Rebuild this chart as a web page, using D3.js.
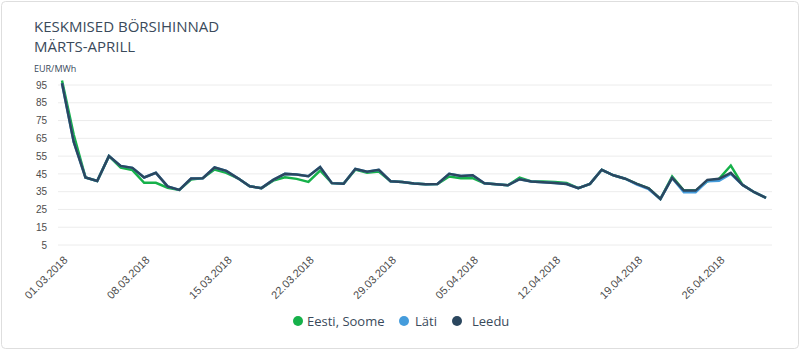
<!DOCTYPE html>
<html>
<head>
<meta charset="utf-8">
<script src="https://cdn.jsdelivr.net/npm/d3@7"></script>
<style>
  body { margin: 0; background: #fff; }
  svg { display: block; font-family: "Open Sans", sans-serif; }
  .title { font-size: 15px; fill: #3a4a5b; }
  .unit { font-size: 9px; fill: #3a4a5b; }
  .legend text { font-size: 13px; fill: #3a4a5b; }
</style>
</head>
<body>
<div id="chart"></div>
<script>
// data
const startDate = new Date(2018, 2, 1);
const endDate = new Date(2018, 3, 30);
const tickLabels = ['01.03.2018', '08.03.2018', '15.03.2018', '22.03.2018', '29.03.2018',
  '05.04.2018', '12.04.2018', '19.04.2018', '26.04.2018'];
const yTicks = [5, 15, 25, 35, 45, 55, 65, 75, 85, 95];
const seriesNames = ['Eesti, Soome', 'Läti', 'Leedu'];
const seriesColors = ['#16b14a', '#459cdc', '#2b475f'];

const eesti = [97.5, 67, 43, 41, 55, 48.6, 47.1, 40, 40, 37.2,
  36, 41.8, 42.6, 47.5, 45.6, 42.5, 38, 37, 41.2, 43.1,
  42.2, 40.5, 46.9, 39.8, 39.5, 47.4, 45.6, 46.3, 40.9, 40.5,
  39.6, 39.2, 39.3, 43.5, 42.6, 42.6, 39.7, 39.2, 38.6, 42.9,
  40.7, 40.7, 40.5, 39.9, 37, 39.4, 47.3, 44.2, 42.3, 39.4,
  36.9, 30.9, 43.5, 35.6, 35.6, 40.9, 42.2, 49.7, 38.8, 34.7, 31.5];
const lati = [96, 63, 43, 41, 55, 49.5, 48.4, 43, 45.6, 38,
  36, 42.4, 42.6, 48.6, 46.7, 42.5, 38, 37, 41.6, 45,
  44.6, 43.7, 48.8, 39.8, 39.5, 47.8, 46.2, 47.3, 40.9, 40.5,
  39.6, 39.2, 39.3, 45, 43.8, 44.2, 39.7, 39.2, 38.6, 42,
  40.7, 40.3, 39.9, 39.3, 37, 39.4, 47.3, 44.2, 42.3, 39,
  36.4, 30.9, 42.7, 34.7, 34.7, 40.9, 41.2, 45, 38.8, 34.7, 31.5];
const leedu = [96, 63, 43, 41, 55, 49.5, 48.4, 43, 45.6, 38,
  36, 42.4, 42.6, 48.6, 46.7, 42.5, 38, 37, 41.6, 45,
  44.6, 43.7, 48.8, 39.8, 39.5, 47.8, 46.2, 47.3, 40.9, 40.5,
  39.6, 39.2, 39.3, 45, 43.8, 44.2, 39.7, 39.2, 38.6, 42,
  40.7, 40.3, 39.9, 39.3, 37, 39.4, 47.3, 44.2, 42.3, 39.4,
  36.9, 30.9, 42.7, 35.6, 35.6, 41.6, 42.2, 45.6, 38.8, 34.7, 31.5];

const width = 800, height = 350;

const svg = d3.select('#chart').append('svg')
    .attr('width', width)
    .attr('height', height);

// card frame
svg.append('rect')
    .attr('x', 1.5).attr('y', 1.5)
    .attr('width', width - 3).attr('height', height - 3)
    .attr('rx', 4)
    .attr('fill', '#fff')
    .attr('stroke', '#dedede');

svg.append('text').attr('class', 'title').attr('x', 34).attr('y', 32).text('KESKMISED BÖRSIHINNAD');
svg.append('text').attr('class', 'title').attr('x', 34).attr('y', 52).text('MÄRTS-APRILL');
svg.append('text').attr('class', 'unit').attr('x', 34).attr('y', 72).text('EUR/MWh');

const x = d3.scaleTime().domain([startDate, endDate]).range([62, 766]);
const y = d3.scaleLinear().domain([5, 95]).range([245, 85]);
const gridLeft = 58, gridRight = 772;

// horizontal grid
svg.append('g').selectAll('line')
    .data(yTicks)
  .join('line')
    .attr('x1', gridLeft).attr('x2', gridRight)
    .attr('y1', d => y(d)).attr('y2', d => y(d))
    .attr('stroke', '#ececec');

// y axis labels
const yAxis = svg.append('g')
    .attr('transform', 'translate(47,0)')
    .call(d3.axisLeft(y).tickValues(yTicks).tickSize(0).tickPadding(0));
yAxis.select('.domain').remove();
yAxis.selectAll('text')
    .attr('fill', '#4d4d4d')
    .style('font-size', '10px');

// x axis labels, one every week
const parseLabel = d3.timeParse('%d.%m.%Y');
const xAxis = svg.append('g')
    .attr('transform', 'translate(0,254)')
    .call(d3.axisBottom(x)
      .tickValues(tickLabels.map(parseLabel))
      .tickFormat(d3.timeFormat('%d.%m.%Y'))
      .tickSize(0));
xAxis.select('.domain').remove();
xAxis.selectAll('text')
    .attr('fill', '#4d4d4d')
    .style('font-size', '11px')
    .attr('text-anchor', 'end')
    .attr('y', 0)
    .attr('dy', '0.35em')
    .attr('transform', 'translate(3,4) rotate(-45)');

// lines
const line = d3.line()
    .x((d, i) => x(d3.timeDay.offset(startDate, i)))
    .y(d => y(d));

svg.append('g').selectAll('path')
    .data([eesti, lati, leedu])
  .join('path')
    .attr('d', line)
    .attr('fill', 'none')
    .attr('stroke', (d, i) => seriesColors[i])
    .attr('stroke-width', 2.5);

// legend
const legendX = [298, 404, 457];
const legendGap = [9, 11, 15];
const legend = svg.append('g').attr('class', 'legend')
  .selectAll('g')
    .data(seriesNames)
  .join('g')
    .attr('transform', (d, i) => `translate(${legendX[i]},321)`);
legend.append('circle').attr('r', 5).attr('fill', (d, i) => seriesColors[i]);
legend.append('text').attr('x', (d, i) => legendGap[i]).attr('dy', '0.35em').text(d => d);
</script>
</body>
</html>
